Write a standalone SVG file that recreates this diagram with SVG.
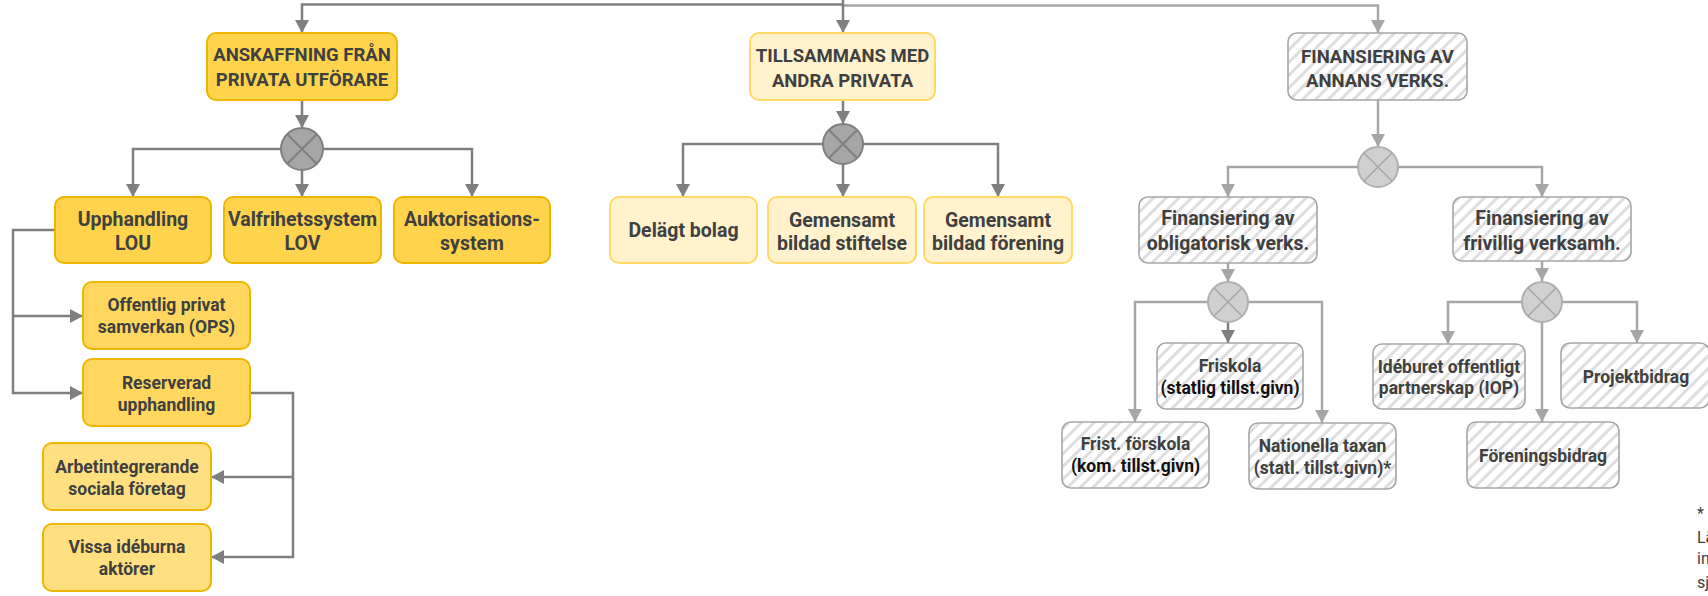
<svg xmlns="http://www.w3.org/2000/svg" width="1708" height="596" viewBox="0 0 1708 596">
<style>
text{font-family:Roboto,"Liberation Sans",sans-serif;font-weight:bold;fill:#404040;text-anchor:middle}
.m{font-size:19.5px}
.t{font-size:18.5px}
.s{font-size:17.5px}
.blk{fill:#111}
.y1{fill:#ffd34c;stroke:#edb600;stroke-width:2}
.y2{fill:#ffd75e;stroke:#edb600;stroke-width:2}
.y3{fill:#ffdf80;stroke:#edb600;stroke-width:2}
.y4{fill:#fff2cc;stroke:#ffd966;stroke-width:2}
.g{fill:url(#hatch);stroke:#a6a6a6;stroke-width:1.6}
.cd{fill:none;stroke:#7f7f7f;stroke-width:2.5}
.cl{fill:none;stroke:#a6a6a6;stroke-width:2.5}
.gd{fill:#a6a6a6;stroke:#7f7f7f;stroke-width:2}
.gdx{stroke:#7f7f7f;stroke-width:2}
.gl{fill:#d0d0d0;stroke:#b0b0b0;stroke-width:2}
.glx{stroke:#a6a6a6;stroke-width:1.5}
.fn{font-weight:normal;font-size:16px;text-anchor:start;fill:#404040}
</style>
<defs>
<pattern id="hatch" patternUnits="userSpaceOnUse" width="9" height="9" patternTransform="rotate(45)">
<rect width="9" height="9" fill="#ffffff"/>
<rect x="0" y="0" width="3" height="9" fill="#dedede"/>
</pattern>
<marker id="ad" markerUnits="userSpaceOnUse" markerWidth="14" markerHeight="14" viewBox="0 0 14 14" refX="13" refY="7" orient="auto">
<path d="M0,0 L13,7 L0,14 Z" fill="#7f7f7f"/>
</marker>
<marker id="al" markerUnits="userSpaceOnUse" markerWidth="14" markerHeight="14" viewBox="0 0 14 14" refX="13" refY="7" orient="auto">
<path d="M0,0 L13,7 L0,14 Z" fill="#a6a6a6"/>
</marker>
</defs>

<g id="connectors">
<path class="cl" d="M843,5.5 H1378 V33" marker-end="url(#al)"/>
<path class="cd" d="M843,4.5 H302 V33" marker-end="url(#ad)"/>
<path class="cd" d="M843,0 V33" marker-end="url(#ad)"/>
<path class="cd" d="M302,100 V128" marker-end="url(#ad)"/>
<path class="cd" d="M281,149 H133 V197" marker-end="url(#ad)"/>
<path class="cd" d="M323,149 H472 V197" marker-end="url(#ad)"/>
<path class="cd" d="M302,170 V197" marker-end="url(#ad)"/>
<path class="cd" d="M55,230 H13 V393 H83" marker-end="url(#ad)"/>
<path class="cd" d="M13,316 H83" marker-end="url(#ad)"/>
<path class="cd" d="M250,393 H293 V557 H211" marker-end="url(#ad)"/>
<path class="cd" d="M293,477 H211" marker-end="url(#ad)"/>
<path class="cd" d="M843,100 V124" marker-end="url(#ad)"/>
<path class="cd" d="M823,144 H683 V197" marker-end="url(#ad)"/>
<path class="cd" d="M863,144 H998 V197" marker-end="url(#ad)"/>
<path class="cd" d="M843,164 V197" marker-end="url(#ad)"/>
<path class="cl" d="M1378,100 V147" marker-end="url(#al)"/>
<path class="cl" d="M1358,167 H1228 V197" marker-end="url(#al)"/>
<path class="cl" d="M1398,167 H1542 V197" marker-end="url(#al)"/>
<path class="cl" d="M1228,263 V282" marker-end="url(#al)"/>
<path class="cl" d="M1208,302 H1135 V422" marker-end="url(#al)"/>
<path class="cl" d="M1248,302 H1322 V423" marker-end="url(#al)"/>
<path class="cd" d="M1228,322 V343" marker-end="url(#ad)"/>
<path class="cl" d="M1542,261 V281" marker-end="url(#al)"/>
<path class="cl" d="M1522,302 H1448 V344" marker-end="url(#al)"/>
<path class="cl" d="M1562,302 H1637 V343" marker-end="url(#al)"/>
<path class="cl" d="M1542,322 V422" marker-end="url(#al)"/>
</g>

<g id="gate1">
<circle class="gd" cx="302" cy="149" r="21"/>
<path class="gdx" d="M287,134 L317,164 M317,134 L287,164"/>
</g>
<g id="gate2">
<circle class="gd" cx="843" cy="144" r="20"/>
<path class="gdx" d="M829,130 L857,158 M857,130 L829,158"/>
</g>
<g id="gate3">
<circle class="gl" cx="1378" cy="167" r="20"/>
<path class="glx" d="M1364,153 L1392,181 M1392,153 L1364,181"/>
</g>
<g id="gate4">
<circle class="gl" cx="1228" cy="302" r="20"/>
<path class="glx" d="M1214,288 L1242,316 M1242,288 L1214,316"/>
</g>
<g id="gate5">
<circle class="gl" cx="1542" cy="302" r="20"/>
<path class="glx" d="M1528,288 L1556,316 M1556,288 L1528,316"/>
</g>

<g id="n-anskaffning">
<rect class="y1" x="207" y="33" width="190" height="67" rx="9"/>
<text class="t" x="302" y="61">ANSKAFFNING FRÅN</text>
<text class="t" x="302" y="86">PRIVATA UTFÖRARE</text>
</g>
<g id="n-upphandling">
<rect class="y1" x="55" y="197" width="156" height="66" rx="9"/>
<text class="m" x="133" y="226">Upphandling</text>
<text class="m" x="133" y="250">LOU</text>
</g>
<g id="n-valfrihet">
<rect class="y1" x="224" y="197" width="157" height="66" rx="9"/>
<text class="m" x="302.5" y="226">Valfrihetssystem</text>
<text class="m" x="302.5" y="250">LOV</text>
</g>
<g id="n-auktorisation">
<rect class="y1" x="394" y="197" width="156" height="66" rx="9"/>
<text class="m" x="472" y="226">Auktorisations-</text>
<text class="m" x="472" y="250">system</text>
</g>
<g id="n-ops">
<rect class="y2" x="83" y="282" width="167" height="67" rx="9"/>
<text class="s" x="166.5" y="311">Offentlig privat</text>
<text class="s" x="166.5" y="333">samverkan (OPS)</text>
</g>
<g id="n-reserverad">
<rect class="y2" x="83" y="359" width="167" height="67" rx="9"/>
<text class="s" x="166.5" y="389">Reserverad</text>
<text class="s" x="166.5" y="411">upphandling</text>
</g>
<g id="n-arbetintegrerande">
<rect class="y3" x="43" y="443" width="168" height="67" rx="9"/>
<text class="s" x="127" y="473">Arbetintegrerande</text>
<text class="s" x="127" y="495">sociala företag</text>
</g>
<g id="n-vissa">
<rect class="y3" x="43" y="524" width="168" height="67" rx="9"/>
<text class="s" x="127" y="553">Vissa idéburna</text>
<text class="s" x="127" y="575">aktörer</text>
</g>

<g id="n-tillsammans">
<rect class="y4" x="750" y="33" width="185" height="67" rx="9"/>
<text class="t" x="842.5" y="62">TILLSAMMANS MED</text>
<text class="t" x="842.5" y="87">ANDRA PRIVATA</text>
</g>
<g id="n-delagt">
<rect class="y4" x="610" y="197" width="147" height="66" rx="9"/>
<text class="m" x="683.5" y="237">Delägt bolag</text>
</g>
<g id="n-stiftelse">
<rect class="y4" x="768" y="197" width="148" height="66" rx="9"/>
<text class="m" x="842" y="227">Gemensamt</text>
<text class="m" x="842" y="250">bildad stiftelse</text>
</g>
<g id="n-forening">
<rect class="y4" x="924" y="197" width="148" height="66" rx="9"/>
<text class="m" x="998" y="227">Gemensamt</text>
<text class="m" x="998" y="250">bildad förening</text>
</g>

<g id="n-finansiering">
<rect class="g" x="1288" y="33" width="179" height="67" rx="9"/>
<text class="t" x="1377.5" y="63">FINANSIERING AV</text>
<text class="t" x="1377.5" y="87">ANNANS VERKS.</text>
</g>
<g id="n-obligatorisk">
<rect class="g" x="1139" y="197" width="178" height="66" rx="9"/>
<text class="m" x="1228" y="225">Finansiering av</text>
<text class="m" x="1228" y="250">obligatorisk verks.</text>
</g>
<g id="n-frivillig">
<rect class="g" x="1453" y="197" width="178" height="64" rx="9"/>
<text class="m" x="1542" y="225">Finansiering av</text>
<text class="m" x="1542" y="250">frivillig verksamh.</text>
</g>
<g id="n-friskola">
<rect class="g" x="1157" y="343" width="146" height="66" rx="9"/>
<text class="s" x="1230" y="372">Friskola</text>
<text class="s blk" x="1230" y="394">(statlig tillst.givn)</text>
</g>
<g id="n-forskola">
<rect class="g" x="1062" y="422" width="147" height="66" rx="9"/>
<text class="s" x="1135.5" y="450">Frist. förskola</text>
<text class="s blk" x="1135.5" y="472">(kom. tillst.givn)</text>
</g>
<g id="n-nationella">
<rect class="g" x="1249" y="423" width="147" height="66" rx="9"/>
<text class="s" x="1322.5" y="452">Nationella taxan</text>
<text class="s" x="1322.5" y="474">(statl. tillst.givn)*</text>
</g>
<g id="n-iop">
<rect class="g" x="1373" y="344" width="152" height="65" rx="9"/>
<text class="s" x="1449" y="373">Idéburet offentligt</text>
<text class="s" x="1449" y="394">partnerskap (IOP)</text>
</g>
<g id="n-projektbidrag">
<rect class="g" x="1561" y="343" width="148" height="65" rx="9"/>
<text class="s" x="1636" y="383">Projektbidrag</text>
</g>
<g id="n-foreningsbidrag">
<rect class="g" x="1467" y="422" width="152" height="66" rx="9"/>
<text class="s" x="1543" y="462">Föreningsbidrag</text>
</g>

<g id="footnote">
<text class="fn" x="1697" y="519">*</text>
<text class="fn" x="1697" y="543">Lä</text>
<text class="fn" x="1697" y="564">in</text>
<text class="fn" x="1697" y="588">sj</text>
</g>
</svg>
